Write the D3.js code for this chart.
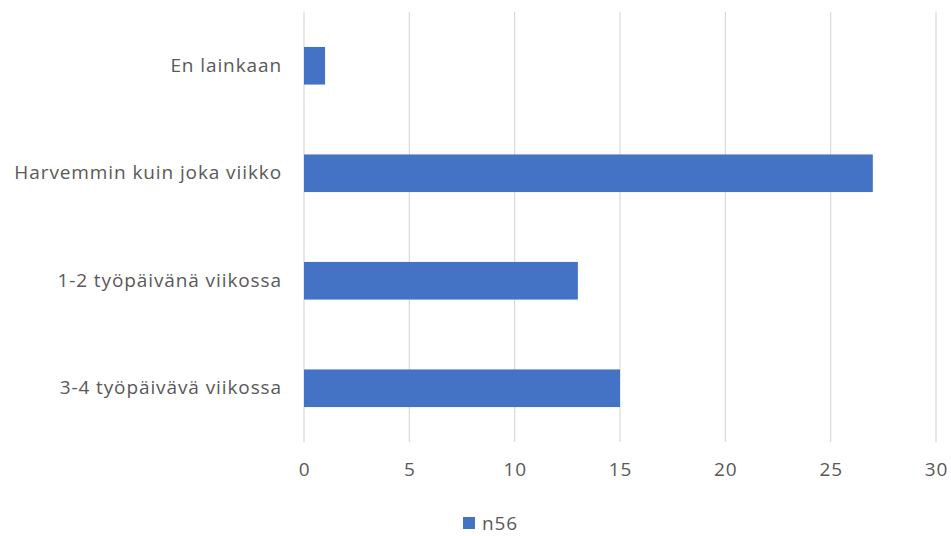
<!DOCTYPE html>
<html><head><meta charset="utf-8">
<script src="https://cdn.jsdelivr.net/npm/d3@7"></script>
<style>body{margin:0;background:#fff;}svg{display:block;font-family:"Open Sans",sans-serif;}</style>
</head><body>
<svg id="c" width="951" height="536"></svg>
<script>
const categories = ["En lainkaan","Harvemmin kuin joka viikko","1-2 työpäivänä viikossa","3-4 työpäivävä viikossa"];
const values = [1,27,13,15];
const xTicks = [0,5,10,15,20,25,30];
const seriesName = "n56";

const FONT = "'Open Sans',sans-serif";
const FS = "19px", LS = "0.9px";
const svg = d3.select("#c");
const m = {left:304, right:16, top:12, bottom:94};
const W = 951, H = 536;
const x = d3.scaleLinear().domain([0,30]).range([m.left, W - m.right + 1]);
const y = d3.scaleBand().domain(categories).range([m.top, H - m.bottom]).paddingInner(0.65).paddingOuter(0.325);

// grid
svg.append("g").selectAll("line").data(xTicks).join("line")
  .attr("x1", d=>x(d)).attr("x2", d=>x(d))
  .attr("y1", m.top).attr("y2", H - m.bottom)
  .attr("stroke", "#d9d9d9").attr("stroke-width", 1.2);

// bars
svg.append("g").selectAll("rect").data(values).join("rect")
  .attr("x", x(0)).attr("y", (d,i)=>y(categories[i]))
  .attr("width", d=>x(d)-x(0)).attr("height", y.bandwidth())
  .attr("fill", "#4472c4");

// x axis labels
const xa = svg.append("g").attr("transform", `translate(0,${H - m.bottom})`)
  .call(d3.axisBottom(x).tickValues(xTicks).tickSize(0).tickPadding(21));
xa.select(".domain").remove();
xa.selectAll("text").attr("fill","#595959").attr("font-size",FS).style("letter-spacing",LS).style("font-family",FONT);

// y labels
const ya = svg.append("g").attr("transform", `translate(${m.left},0)`)
  .call(d3.axisLeft(y).tickSize(0).tickPadding(22));
ya.select(".domain").remove();
ya.selectAll("text").attr("fill","#595959").attr("font-size",FS).style("letter-spacing",LS).style("font-family",FONT);

// legend
const lg = svg.append("g").attr("transform","translate(463,517)");
lg.append("rect").attr("width",12).attr("height",12).attr("fill","#4472c4");
lg.append("text").attr("x",19).attr("y",12.5).attr("fill","#595959").attr("font-size",FS).style("letter-spacing",LS).style("font-family",FONT).text(seriesName);
</script>
</body></html>
